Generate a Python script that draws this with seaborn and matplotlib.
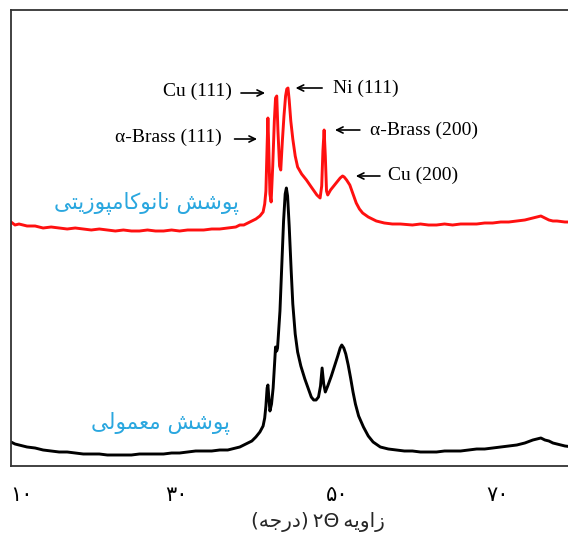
import numpy as np
import pandas as pd
import seaborn as sns
import matplotlib.pyplot as plt
from matplotlib import transforms

# XRD patterns (2theta in degrees, intensity in arbitrary units)
red_x = [10, 10.5, 11, 12, 13, 14, 15, 16, 17, 18, 19, 20, 21, 22, 23, 24, 25, 26, 27, 28,
         29, 30, 31, 32, 33, 34, 35, 36, 37, 38, 38.5, 39, 39.5, 40, 40.5, 41, 41.4, 41.6,
         41.75, 41.9, 42.0, 42.1, 42.25, 42.4, 42.6, 42.8, 42.95, 43.1, 43.25, 43.45, 43.6,
         43.8, 44.0, 44.2, 44.35, 44.5, 44.65, 44.85, 45.1, 45.4, 45.7, 46.2, 46.8, 47.4,
         48.1, 48.5, 48.7, 48.85, 49.0, 49.15, 49.3, 49.45, 49.8, 50.3, 50.7, 51.0, 51.3,
         51.5, 51.8, 52.2, 52.6, 53.0, 53.4, 53.8, 54.5, 55.5, 56.5, 57.5, 58.5, 60, 61, 62,
         63, 64, 65, 66, 67, 68, 69, 70, 71, 72, 73, 74, 75, 75.5, 76, 76.5, 77, 77.5, 78,
         79, 80]
red_y = [244, 241, 242, 240, 240, 238, 239, 238, 237, 238, 237, 236, 237, 236, 235, 236,
         235, 235, 236, 235, 235, 236, 235, 236, 236, 236, 237, 237, 238, 239, 241, 241, 243,
         245, 247, 250, 254, 262, 275, 320, 348, 320, 272, 264, 300, 345, 368, 370, 335, 300,
         296, 325, 350, 370, 377, 378, 366, 345, 327, 310, 299, 292, 286, 279, 271, 268, 280,
         315, 336, 310, 275, 271, 276, 281, 285, 288, 290, 289, 286, 281, 272, 263, 257, 253,
         249, 245, 243, 242, 242, 241, 242, 241, 241, 242, 241, 242, 242, 242, 243, 243, 244,
         244, 245, 246, 248, 249, 250, 248, 246, 245, 245, 244, 244]

black_x = [10, 10.5, 11, 12, 13, 14, 15, 16, 17, 18, 19, 20, 21, 22, 23, 24, 25, 26, 27, 28,
           29, 30, 31, 32, 33, 34, 35, 36, 37, 38, 38.5, 39, 39.5, 40, 40.5, 41, 41.4, 41.6,
           41.75, 41.9, 42.0, 42.1, 42.25, 42.45, 42.65, 42.85, 42.95, 43.1, 43.2, 43.5,
           43.75, 43.95, 44.15, 44.3, 44.45, 44.65, 44.9, 45.1, 45.4, 45.7, 46.1, 46.6, 47.0,
           47.4, 47.7, 48.0, 48.3, 48.55, 48.75, 48.95, 49.15, 49.45, 49.9, 50.3, 50.7, 51.0,
           51.2, 51.45, 51.7, 52.0, 52.3, 52.6, 52.9, 53.3, 53.9, 54.5, 55.1, 56, 57, 58, 59,
           60, 61, 62, 63, 64, 65, 66, 67, 68, 69, 70, 71, 72, 73, 74, 75, 75.5, 76, 76.5, 77,
           77.5, 78, 79, 80]
black_y = [24, 22, 21, 19, 18, 16, 15, 14, 14, 13, 12, 12, 12, 11, 11, 11, 11, 12, 12, 12,
           12, 13, 13, 14, 15, 15, 15, 16, 16, 18, 19, 21, 23, 25, 29, 34, 40, 48, 60, 78, 81,
           70, 55, 62, 78, 105, 119, 115, 118, 155, 205, 245, 272, 278, 270, 240, 195, 162,
           132, 114, 100, 87, 78, 69, 66, 66, 69, 80, 98, 82, 74, 80, 90, 100, 110, 118, 121,
           118, 112, 101, 88, 74, 62, 50, 39, 30, 24, 19, 17, 16, 15, 15, 14, 14, 14, 15, 15,
           15, 16, 17, 17, 18, 19, 20, 21, 23, 26, 27, 28, 26, 25, 23, 22, 20, 19]

tick_pos = [10, 30, 50, 70]
tick_labels = ['۱۰', '۳۰', '۵۰', '۷۰']

peak_labels = ['Cu (111)', 'Ni (111)', 'α-Brass (111)', 'α-Brass (200)', 'Cu (200)']

# persian letter forms: isolated, final, initial, medial
FORMS = {
    'ا': (0xFE8D, 0xFE8E), 'د': (0xFEA9, 0xFEAA), 'ر': (0xFEAD, 0xFEAE),
    'ز': (0xFEAF, 0xFEB0), 'و': (0xFEED, 0xFEEE),
    'پ': (0xFB56, 0xFB57, 0xFB58, 0xFB59), 'ت': (0xFE95, 0xFE96, 0xFE97, 0xFE98),
    'ج': (0xFE9D, 0xFE9E, 0xFE9F, 0xFEA0), 'ش': (0xFEB5, 0xFEB6, 0xFEB7, 0xFEB8),
    'ع': (0xFEC9, 0xFECA, 0xFECB, 0xFECC), 'ک': (0xFB8E, 0xFB8F, 0xFB90, 0xFB91),
    'ل': (0xFEDD, 0xFEDE, 0xFEDF, 0xFEE0), 'م': (0xFEE1, 0xFEE2, 0xFEE3, 0xFEE4),
    'ن': (0xFEE5, 0xFEE6, 0xFEE7, 0xFEE8), 'ه': (0xFEE9, 0xFEEA, 0xFEEB, 0xFEEC),
    'ی': (0xFBFC, 0xFBFD, 0xFBFE, 0xFBFF),
}


def fa(text):
    # matplotlib has no arabic shaping, so do it by hand and return visual order
    out = []
    for i, ch in enumerate(text):
        if ch not in FORMS:
            out.append(ch)
            continue
        prev = text[i - 1] if i > 0 else ''
        nxt = text[i + 1] if i + 1 < len(text) else ''
        jp = prev in FORMS and len(FORMS[prev]) == 4
        jn = len(FORMS[ch]) == 4 and nxt in FORMS
        f = FORMS[ch]
        if jp and jn:
            out.append(chr(f[3]))
        elif jp:
            out.append(chr(f[1]))
        elif jn:
            out.append(chr(f[2]))
        else:
            out.append(chr(f[0]))
    return ''.join(out[::-1])


red_df = pd.DataFrame({'theta': red_x, 'I': red_y})
black_df = pd.DataFrame({'theta': black_x, 'I': black_y})

sns.set_style('white')
plt.rcParams['font.family'] = ['Liberation Serif', 'DejaVu Sans']
plt.rcParams['text.color'] = 'black'
plt.rcParams['xtick.color'] = 'black'

fig = plt.figure(figsize=(5.68, 5.37), dpi=100)
ax = fig.add_axes([11 / 568, 71 / 537, 562 / 568, 456.5 / 537])

sns.lineplot(data=black_df, x='theta', y='I', color='black', lw=2.1, estimator=None, ax=ax)
sns.lineplot(data=red_df, x='theta', y='I', color='#ff1010', lw=2.1, estimator=None, ax=ax)

ax.set_xlim(10, 80)
ax.set_ylim(0, 456.5)
ax.set_yticks([])
ax.set_ylabel('')
ax.set_xticks(tick_pos)
ax.set_xticklabels(tick_labels, family='DejaVu Sans', fontsize=15)
ax.tick_params(axis='x', direction='in', length=4.5, width=1, color='#333333', pad=14)
for sp in ['left', 'top', 'bottom']:
    ax.spines[sp].set_color('#333333')
    ax.spines[sp].set_linewidth(1.3)
ax.spines['right'].set_visible(False)

shifts = [10, 5, 5, 5]
for lab, dx in zip(ax.get_xticklabels(), shifts):
    lab.set_transform(lab.get_transform() + transforms.ScaledTranslation(dx / 100, 0, fig.dpi_scale_trans))

# visual order, left to right: (degree) 2theta angle
xlab = '(' + fa('درجه') + ')' + '\u2009۲Θ\u2009' + fa('زاویه')
ax.set_xlabel(xlab, family='DejaVu Sans', fontsize=14.5)
ax.xaxis.set_label_coords(0.546, -0.1)

# peak labels and arrows
fs = 14
arrow = dict(arrowstyle='->,head_length=0.45,head_width=0.22', color='black', lw=1.2)
ax.text(37.5, 375, peak_labels[0], ha='right', va='center', fontsize=fs)
ax.annotate('', xy=(42.0, 373), xytext=(38.3, 373), arrowprops=arrow)
ax.text(50.1, 378, peak_labels[1], ha='left', va='center', fontsize=fs)
ax.annotate('', xy=(45.1, 378), xytext=(49.1, 378), arrowprops=arrow)
ax.text(36.3, 329, peak_labels[2], ha='right', va='center', fontsize=fs)
ax.annotate('', xy=(41.0, 327), xytext=(37.5, 327), arrowprops=arrow)
ax.text(54.7, 336, peak_labels[3], ha='left', va='center', fontsize=fs)
ax.annotate('', xy=(50.0, 336), xytext=(53.8, 336), arrowprops=arrow)
ax.text(57.0, 291, peak_labels[4], ha='left', va='center', fontsize=fs)
ax.annotate('', xy=(52.6, 290), xytext=(56.3, 290), arrowprops=arrow)

blue = '#2aa7df'
ax.text(26.9, 263, fa('پوشش نانوکامپوزیتی'), ha='center', va='center', color=blue,
        family='DejaVu Sans', fontsize=15.5)
ax.text(28.6, 43, fa('پوشش معمولی'), ha='center', va='center', color=blue,
        family='DejaVu Sans', fontsize=15.5)

fig.savefig('out.png', dpi=100)
